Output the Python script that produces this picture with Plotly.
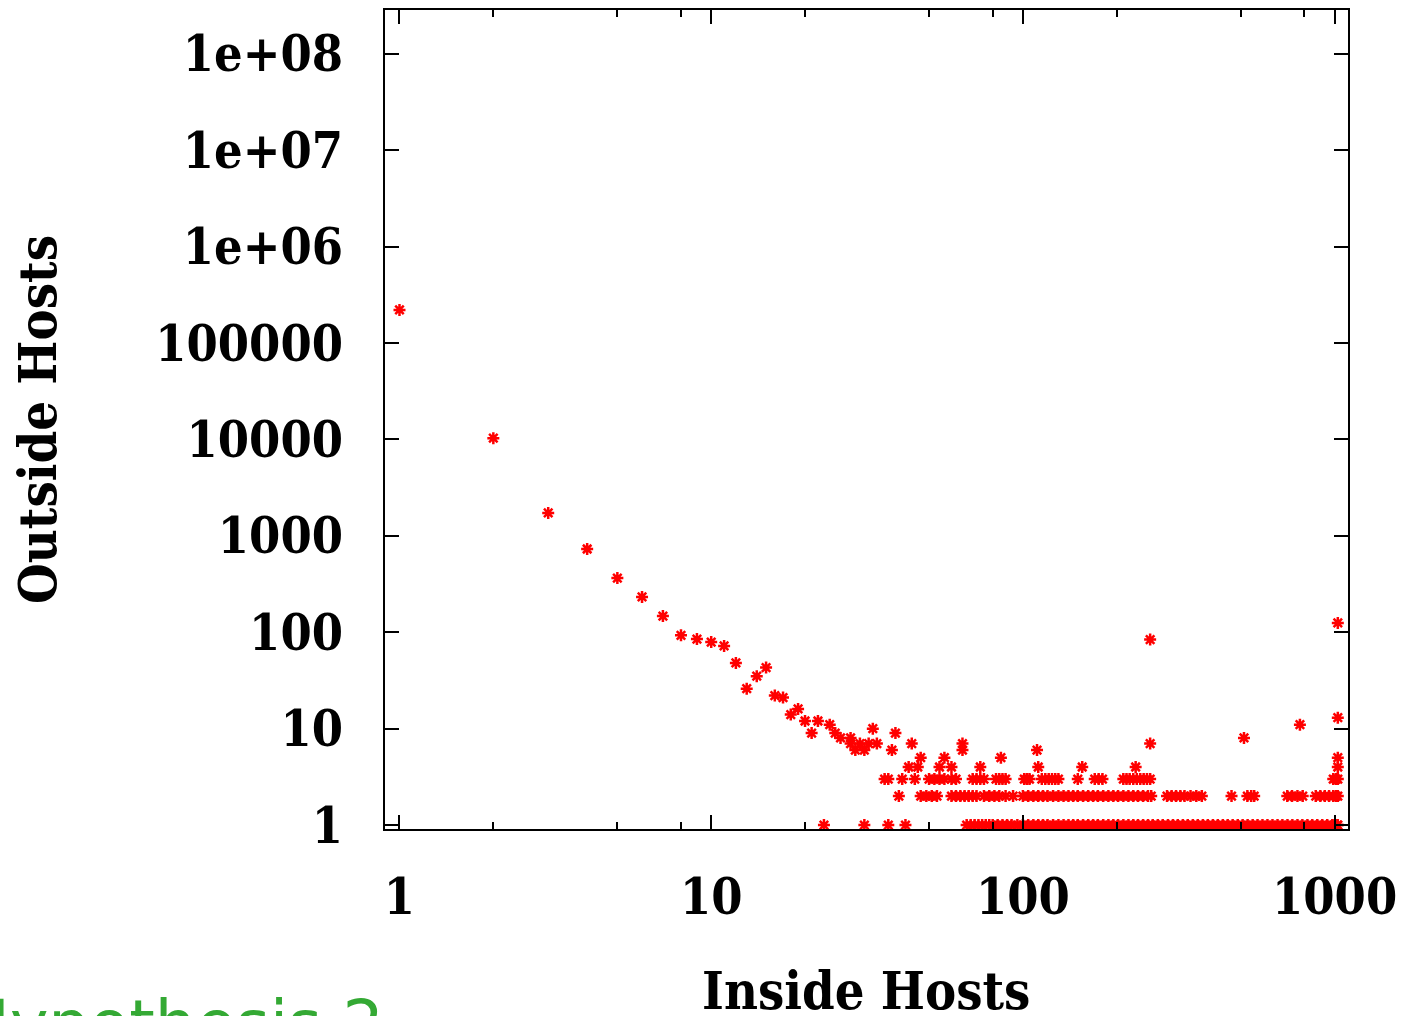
import plotly.graph_objects as go

# Inside-host count (x) and outside-host count (y), grouped by y level
single_x = [1, 2, 3, 4, 5, 6, 7, 8, 9, 10, 11, 12, 13, 14, 15, 16, 17, 18, 19, 20,
            21, 22, 24, 25, 26, 28, 33, 39, 256, 512, 774, 1024, 1024]
single_y = [220000, 10300, 1725, 730, 365, 232, 147, 93, 85, 79, 72, 48, 26, 35, 43, 22, 21, 14, 16, 12,
            9, 12, 11, 9, 8, 8, 10, 9, 84, 8, 11, 13, 125]

y7_x = [28, 30, 32, 34, 44, 64, 256]
y6_x = [29, 31, 38, 64, 111]
y5_x = [47, 56, 85, 1024]
y4_x = [43, 46, 54, 59, 73, 112, 155, 230, 1024]
y3_x = [36, 37, 41, 45, 50, 52, 54, 56, 59, 61, 69, 71, 73, 75, 82, 84, 86, 88,
        101, 103, 105, 115, 118, 121, 124, 127, 130, 150, 170, 175, 180,
        210, 215, 220, 226, 232, 238, 244, 250, 256, 990, 1010, 1024]
y2_x = [40, 47, 49, 51, 53, 59, 61, 63, 65, 67, 69, 71, 75, 78, 81, 84, 88, 93,
        100, 104, 108, 112, 116, 120, 125, 130, 135, 140, 145, 150, 156, 162, 168,
        174, 181, 188, 195, 202, 210, 218, 226, 234, 243, 252, 258,
        290, 300, 310, 320, 330, 345, 360, 375, 467, 525, 540, 552,
        705, 730, 760, 790, 870, 900, 930, 960, 990, 1010, 1024]
y1_x = [23, 31, 37, 42, 66, 68, 70, 72, 74, 76, 78, 80, 83, 86, 89, 92,
        96, 100, 104, 108, 112, 116, 120, 125, 130, 135, 140, 145, 150, 156, 162,
        168, 174, 181, 188, 195, 202, 210, 218, 226, 234, 243, 252, 261, 271, 281,
        292, 303, 314, 326, 338, 351, 364, 378, 392, 407, 422, 438, 454, 471, 489,
        507, 526, 546, 566, 587, 609, 632, 656, 680, 706, 732, 760, 788, 818, 848,
        880, 913, 947, 983, 1000, 1020, 1024]

level_groups = [(y7_x, 7), (y6_x, 6), (y5_x, 5), (y4_x, 4), (y3_x, 3), (y2_x, 2), (y1_x, 1)]

xs = list(single_x)
ys = list(single_y)
for gx, level in level_groups:
    xs += gx
    ys += [level] * len(gx)

x_ticks = [1, 10, 100, 1000]
x_minor = [2, 5, 8, 20, 50, 80, 200, 500, 800]
y_ticks = [1, 10, 100, 1000, 10000, 100000, 1e6, 1e7, 1e8]
y_labels = ["1", "10", "100", "1000", "10000", "100000", "1e+06", "1e+07", "1e+08"]

serif = "DejaVu Serif Condensed"
tick_font = dict(family=serif, size=50, color="black", weight="bold")
title_font = dict(family=serif, size=52, color="black", weight="bold")

# plot-area geometry in pixels, used to place the free-standing labels
L, R, T, B = 385, 55, 10, 187
W, H = 1403, 1016
pw, ph = W - L - R, H - T - B


def px_to_paper(xp, yp):
    return (xp - L) / pw, (H - B - yp) / ph


fig = go.Figure(go.Scatter(
    x=xs, y=ys, mode="markers",
    marker=dict(symbol="asterisk-open", size=10, color="red",
                line=dict(color="red", width=2.5)),
    cliponaxis=True, showlegend=False,
))

xt_x, xt_y = px_to_paper(866, 1023)
hy_x, hy_y = px_to_paper(-41, 1064)

fig.update_layout(
    width=W, height=H,
    margin=dict(l=L, r=R, t=T, b=B, autoexpand=False),
    paper_bgcolor="white", plot_bgcolor="white",
    xaxis=dict(
        type="log", range=[-0.0465, 3.043], automargin=False,
        tickvals=x_ticks, ticktext=[str(v) for v in x_ticks],
        ticks="inside", ticklen=14, tickwidth=2, tickcolor="black",
        minor=dict(tickvals=x_minor, ticks="inside", ticklen=7, tickwidth=2, tickcolor="black"),
        showline=True, linecolor="black", linewidth=2, mirror="ticks",
        showgrid=False, zeroline=False,
        tickfont=tick_font, ticklabelstandoff=23,
    ),
    yaxis=dict(
        type="log", range=[-0.041, 8.454], automargin=False,
        tickvals=y_ticks, ticktext=y_labels,
        ticks="inside", ticklen=14, tickwidth=2, tickcolor="black",
        showline=True, linecolor="black", linewidth=2, mirror="ticks",
        showgrid=False, zeroline=False,
        tickfont=tick_font, ticklabelstandoff=30,
        title=dict(text="Outside Hosts", font=title_font, standoff=82),
    ),
    annotations=[
        dict(text="Inside Hosts", xref="paper", yref="paper", x=xt_x, y=xt_y,
             xanchor="center", yanchor="bottom", showarrow=False, font=title_font),
        dict(text="Hypothesis 2", xref="paper", yref="paper", x=hy_x, y=hy_y,
             xanchor="left", yanchor="bottom", showarrow=False,
             font=dict(family="DejaVu Sans", size=65, color="#34a934")),
    ],
)

fig.write_html("out.html")
